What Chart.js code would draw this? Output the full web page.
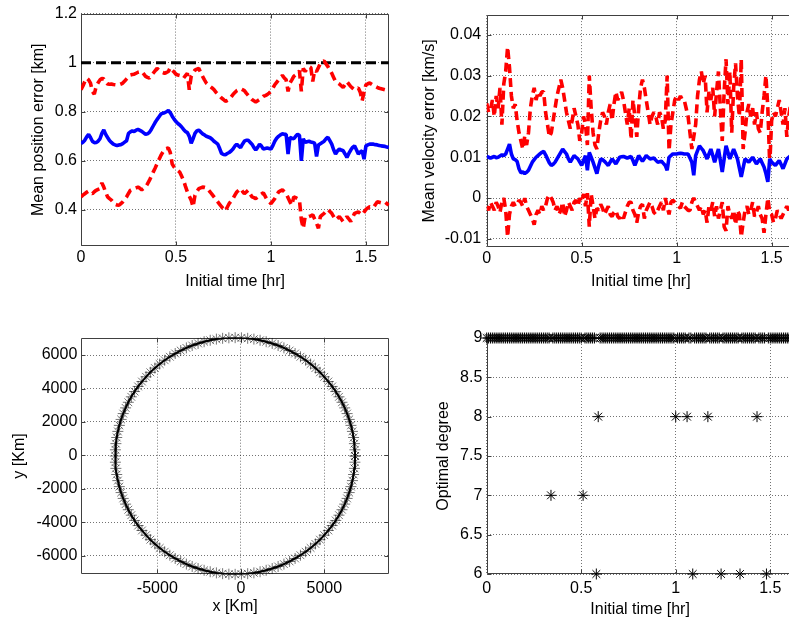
<!DOCTYPE html>
<html>
<head>
<meta charset="utf-8">
<script src="https://cdn.jsdelivr.net/npm/chart.js@4.4.1/dist/chart.umd.min.js"></script>
<style>
  html, body { margin: 0; padding: 0; overflow: hidden; background: #fff; width: 789px; height: 623px; }
  canvas { position: absolute; }
</style>
</head>
<body>
<canvas id="posChart" width="400" height="300" style="left:0;top:0"></canvas>
<canvas id="velChart" width="400" height="300" style="left:400px;top:0"></canvas>
<canvas id="orbitChart" width="400" height="323" style="left:0;top:300px"></canvas>
<canvas id="degChart" width="400" height="323" style="left:400px;top:300px"></canvas>
<script>
// initial times [hr]
const timeHr = [
  0,0.01,0.02,0.03,0.04,0.05,0.06,0.07,0.08,0.09,
  0.1,0.11,0.12,0.13,0.14,0.15,0.16,0.17,0.18,0.19,
  0.2,0.21,0.22,0.23,0.24,0.25,0.26,0.27,0.28,0.29,
  0.3,0.31,0.32,0.33,0.34,0.35,0.36,0.37,0.38,0.39,
  0.4,0.41,0.42,0.43,0.44,0.45,0.46,0.47,0.48,0.49,
  0.5,0.51,0.52,0.53,0.54,0.55,0.56,0.57,0.58,0.59,
  0.6,0.61,0.62,0.63,0.64,0.65,0.66,0.67,0.68,0.69,
  0.7,0.71,0.72,0.73,0.74,0.75,0.76,0.77,0.78,0.79,
  0.8,0.81,0.82,0.83,0.84,0.85,0.86,0.87,0.88,0.89,
  0.9,0.91,0.92,0.93,0.94,0.95,0.96,0.97,0.98,0.99,
  1,1.01,1.02,1.03,1.04,1.05,1.06,1.07,1.08,1.09,
  1.1,1.11,1.12,1.13,1.14,1.15,1.16,1.17,1.18,1.19,
  1.2,1.21,1.22,1.23,1.24,1.25,1.26,1.27,1.28,1.29,
  1.3,1.31,1.32,1.33,1.34,1.35,1.36,1.37,1.38,1.39,
  1.4,1.41,1.42,1.43,1.44,1.45,1.46,1.47,1.48,1.49,
  1.5,1.51,1.52,1.53,1.54,1.55,1.56,1.57,1.58,1.59,
  1.6,1.61,1.62
];

// mean position error [km] and its bounds
const posMean = [
  0.671,0.676,0.684,0.698,0.708,0.695,0.680,0.674,0.675,0.680,
  0.690,0.712,0.726,0.708,0.695,0.683,0.675,0.668,0.665,0.663,
  0.665,0.666,0.670,0.676,0.682,0.712,0.718,0.722,0.720,0.725,
  0.728,0.724,0.720,0.714,0.708,0.710,0.716,0.728,0.742,0.756,
  0.768,0.779,0.790,0.794,0.796,0.800,0.805,0.796,0.782,0.770,
  0.760,0.752,0.746,0.738,0.728,0.720,0.715,0.700,0.672,0.690,
  0.712,0.722,0.725,0.718,0.710,0.706,0.700,0.697,0.694,0.688,
  0.680,0.674,0.668,0.650,0.630,0.626,0.625,0.630,0.634,0.640,
  0.648,0.660,0.668,0.660,0.654,0.668,0.680,0.684,0.684,0.676,
  0.668,0.655,0.644,0.655,0.668,0.660,0.648,0.650,0.652,0.650,
  0.648,0.662,0.680,0.692,0.700,0.706,0.710,0.708,0.708,0.628,
  0.695,0.692,0.690,0.700,0.708,0.704,0.600,0.690,0.675,0.678,
  0.680,0.677,0.675,0.672,0.618,0.665,0.670,0.675,0.680,0.690,
  0.696,0.682,0.668,0.645,0.628,0.640,0.648,0.644,0.641,0.628,
  0.614,0.630,0.644,0.655,0.661,0.645,0.628,0.636,0.641,0.607,
  0.661,0.665,0.668,0.668,0.668,0.666,0.665,0.663,0.661,0.660,
  0.659,0.656,0.654
];
const posUpper = [
  0.890,0.905,0.923,0.937,0.930,0.917,0.883,0.872,0.903,0.918,
  0.930,0.935,0.934,0.922,0.913,0.912,0.913,0.911,0.910,0.909,
  0.910,0.913,0.917,0.925,0.934,0.943,0.950,0.952,0.953,0.957,
  0.961,0.963,0.964,0.954,0.944,0.940,0.937,0.947,0.957,0.967,
  0.977,0.970,0.964,0.960,0.957,0.960,0.964,0.980,0.970,0.962,
  0.953,0.950,0.948,0.942,0.937,0.947,0.957,0.890,0.944,0.958,
  0.970,0.974,0.977,0.960,0.944,0.930,0.917,0.910,0.903,0.897,
  0.890,0.880,0.872,0.864,0.856,0.850,0.843,0.846,0.850,0.860,
  0.870,0.878,0.886,0.890,0.894,0.890,0.886,0.876,0.867,0.858,
  0.850,0.845,0.840,0.845,0.850,0.856,0.863,0.866,0.870,0.876,
  0.883,0.896,0.910,0.920,0.930,0.940,0.948,0.938,0.930,0.883,
  0.917,0.930,0.944,0.950,0.957,0.967,0.883,0.977,0.964,0.974,
  0.984,0.980,0.923,0.970,0.964,0.980,0.997,1.003,1.007,0.995,
  0.984,0.970,0.957,0.940,0.923,0.918,0.913,0.906,0.899,0.910,
  0.923,0.913,0.903,0.896,0.890,0.894,0.897,0.880,0.845,0.880,
  0.910,0.914,0.917,0.912,0.907,0.903,0.899,0.896,0.894,0.892,
  0.890,0.892,0.894
];
const posLower = [
  0.453,0.460,0.466,0.472,0.477,0.470,0.466,0.474,0.480,0.484,
  0.487,0.510,0.493,0.472,0.453,0.446,0.440,0.430,0.423,0.420,
  0.419,0.426,0.433,0.443,0.453,0.467,0.480,0.484,0.487,0.490,
  0.493,0.488,0.482,0.488,0.493,0.506,0.520,0.537,0.554,0.570,
  0.587,0.604,0.621,0.635,0.648,0.650,0.652,0.634,0.587,0.575,
  0.567,0.560,0.554,0.537,0.520,0.496,0.473,0.456,0.440,0.413,
  0.460,0.474,0.487,0.490,0.493,0.492,0.490,0.482,0.473,0.463,
  0.453,0.443,0.433,0.423,0.413,0.404,0.396,0.411,0.426,0.436,
  0.446,0.460,0.473,0.480,0.487,0.476,0.466,0.473,0.480,0.466,
  0.453,0.450,0.446,0.453,0.460,0.465,0.470,0.455,0.440,0.433,
  0.426,0.436,0.446,0.460,0.473,0.478,0.482,0.474,0.466,0.450,
  0.433,0.419,0.453,0.450,0.446,0.440,0.360,0.325,0.373,0.373,
  0.373,0.376,0.380,0.363,0.346,0.325,0.373,0.380,0.386,0.394,
  0.402,0.394,0.386,0.373,0.360,0.366,0.373,0.363,0.353,0.363,
  0.373,0.363,0.353,0.370,0.386,0.389,0.392,0.386,0.380,0.391,
  0.402,0.408,0.413,0.411,0.410,0.422,0.433,0.431,0.429,0.431,
  0.433,0.426,0.419
];
const posLimit = 1;

// mean velocity error [km/s] and its bounds
const velMean = [
  0.0102,0.0100,0.0098,0.0100,0.0102,0.0099,0.0100,0.0103,0.0106,0.0104,
  0.0108,0.0120,0.0132,0.0108,0.0096,0.0094,0.0090,0.0072,0.0062,0.0064,
  0.0060,0.0063,0.0068,0.0078,0.0088,0.0094,0.0100,0.0104,0.0108,0.0112,
  0.0114,0.0106,0.0096,0.0086,0.0080,0.0083,0.0088,0.0096,0.0104,0.0112,
  0.0120,0.0114,0.0108,0.0096,0.0088,0.0096,0.0104,0.0100,0.0096,0.0088,
  0.0080,0.0092,0.0104,0.0068,0.0112,0.0100,0.0088,0.0074,0.0060,0.0080,
  0.0096,0.0094,0.0090,0.0085,0.0080,0.0088,0.0096,0.0090,0.0084,0.0092,
  0.0100,0.0101,0.0102,0.0100,0.0098,0.0100,0.0102,0.0092,0.0080,0.0092,
  0.0104,0.0097,0.0090,0.0097,0.0104,0.0100,0.0096,0.0097,0.0098,0.0093,
  0.0088,0.0089,0.0090,0.0085,0.0080,0.0068,0.0100,0.0104,0.0108,0.0108,
  0.0108,0.0109,0.0110,0.0109,0.0108,0.0108,0.0108,0.0098,0.0088,0.0056,
  0.0104,0.0116,0.0128,0.0122,0.0116,0.0106,0.0096,0.0108,0.0120,0.0104,
  0.0088,0.0104,0.0120,0.0092,0.0064,0.0096,0.0128,0.0112,0.0096,0.0108,
  0.0120,0.0108,0.0096,0.0074,0.0052,0.0074,0.0096,0.0092,0.0088,0.0094,
  0.0100,0.0092,0.0084,0.0090,0.0096,0.0086,0.0076,0.0060,0.0040,0.0096,
  0.0088,0.0084,0.0080,0.0086,0.0092,0.0082,0.0072,0.0084,0.0096,0.0100,
  0.0104,0.0102,0.0100
];
const velUpper = [
  0.0232,0.021,0.0216,0.024,0.020,0.025,0.022,0.027,0.018,0.028,
  0.031,0.037,0.032,0.025,0.022,0.023,0.019,0.016,0.014,0.012,
  0.015,0.013,0.016,0.022,0.025,0.027,0.024,0.026,0.025,0.026,
  0.026,0.021,0.018,0.015,0.016,0.019,0.022,0.025,0.027,0.029,
  0.027,0.024,0.021,0.019,0.017,0.019,0.022,0.020,0.018,0.014,
  0.016,0.020,0.018,0.013,0.030,0.022,0.016,0.013,0.012,0.016,
  0.019,0.021,0.020,0.018,0.021,0.023,0.019,0.023,0.026,0.024,
  0.025,0.026,0.024,0.021,0.018,0.022,0.0144,0.024,0.020,0.015,
  0.022,0.027,0.029,0.027,0.024,0.021,0.018,0.020,0.021,0.020,
  0.018,0.021,0.020,0.017,0.019,0.030,0.0116,0.018,0.021,0.024,
  0.025,0.024,0.025,0.024,0.024,0.022,0.020,0.016,0.012,0.015,
  0.018,0.025,0.029,0.031,0.028,0.030,0.021,0.026,0.024,0.027,
  0.020,0.026,0.031,0.022,0.014,0.026,0.034,0.023,0.031,0.016,
  0.027,0.033,0.025,0.020,0.034,0.012,0.016,0.021,0.023,0.020,
  0.022,0.018,0.021,0.017,0.016,0.021,0.025,0.030,0.022,0.008,
  0.019,0.021,0.020,0.022,0.024,0.021,0.018,0.022,0.015,0.020,
  0.023,0.019,0.021
];
const velLower = [
  -0.002,-0.003,-0.001,-0.002,-0.003,-0.001,-0.002,-0.0035,-0.001,0,
  -0.003,-0.0095,-0.004,-0.002,-0.001,-0.002,-0.0015,-0.0005,-0.001,-0.002,
  0,-0.002,-0.003,-0.004,-0.005,-0.0065,-0.004,-0.003,-0.004,-0.002,
  -0.003,-0.002,0,0.0008,0,-0.001,-0.003,-0.002,-0.004,-0.003,
  -0.001,-0.0045,-0.003,-0.001,-0.002,-0.003,-0.001,-0.0005,-0.002,0,
  -0.001,0.001,-0.002,0.0012,-0.007,0.001,-0.002,-0.005,-0.0025,-0.003,
  -0.0015,-0.0025,-0.004,-0.003,-0.002,-0.004,-0.0045,-0.0035,-0.003,-0.0045,
  -0.005,-0.004,-0.005,-0.0035,-0.002,-0.001,-0.001,-0.003,-0.004,-0.006,
  -0.0035,-0.002,-0.0015,-0.005,-0.003,-0.002,-0.001,-0.002,-0.0035,-0.004,
  -0.003,-0.002,-0.001,-0.003,0,-0.002,-0.004,-0.001,-0.0005,-0.001,
  -0.0015,-0.002,-0.0025,-0.001,-0.002,-0.0025,-0.003,-0.003,-0.001,0,
  -0.001,-0.002,-0.003,-0.002,-0.004,-0.003,-0.006,-0.002,-0.003,-0.001,
  -0.0045,-0.002,-0.005,-0.003,-0.001,-0.007,-0.008,-0.002,-0.004,-0.005,
  -0.003,-0.0065,-0.003,-0.004,-0.0095,-0.006,-0.003,-0.002,-0.004,-0.003,
  -0.001,-0.0045,-0.0035,-0.002,-0.004,-0.005,-0.0085,-0.004,0,-0.0035,
  -0.004,-0.006,-0.005,-0.003,-0.004,-0.005,-0.004,-0.003,-0.002,-0.003,
  -0.002,-0.001,-0.003
];

// orbit positions [Km]
const orbitX = [
  6840,6830,6800,6752,6683,6595,6489,6363,6219,6057,5878,5682,5469,5240,4995,
  4737,4464,4178,3880,3570,3250,2920,2580,2233,1879,1518,1153,783,410,36,
  -340,-716,-1090,-1463,-1833,-2198,-2559,-2913,-3260,-3600,-3930,-4250,-4560,-4858,-5144,
  -5417,-5675,-5920,-6149,-6362,-6558,-6737,-6899,-7043,-7169,-7275,-7363,-7432,-7480,-7510,
  -7520,-7510,-7480,-7432,-7363,-7275,-7169,-7043,-6899,-6737,-6558,-6362,-6149,-5920,-5675,
  -5417,-5144,-4858,-4560,-4250,-3930,-3600,-3260,-2913,-2559,-2198,-1833,-1463,-1090,-716,
  -340,36,410,783,1153,1518,1879,2233,2580,2920,3250,3570,3880,4178,4464,
  4737,4995,5240,5469,5682,5878,6057,6219,6363,6489,6595,6683,6752,6800,6830,
  6840
];
const orbitY = [
  -30,340,708,1075,1439,1798,2153,2502,2843,3178,3503,3818,4123,4416,4697,
  4966,5220,5460,5686,5895,6088,6265,6424,6566,6690,6794,6880,6948,6996,7025,
  7035,7025,6996,6948,6880,6794,6690,6566,6424,6265,6088,5895,5686,5460,5220,
  4966,4697,4416,4123,3818,3503,3178,2843,2502,2153,1798,1439,1075,708,340,
  -30,-400,-768,-1135,-1499,-1858,-2213,-2562,-2903,-3238,-3563,-3878,-4183,-4476,-4757,
  -5026,-5280,-5520,-5746,-5955,-6148,-6325,-6484,-6626,-6750,-6854,-6940,-7008,-7056,-7085,
  -7095,-7085,-7056,-7008,-6940,-6854,-6750,-6626,-6484,-6325,-6148,-5955,-5746,-5520,-5280,
  -5026,-4757,-4476,-4183,-3878,-3563,-3238,-2903,-2562,-2213,-1858,-1499,-1135,-768,-400,
  -30
];

// optimal polynomial degree per initial time
const optDegree = [
  9,9,9,9,9,9,9,9,9,9,
  9,9,9,9,9,9,9,9,9,9,
  9,9,9,9,9,9,9,9,9,9,
  9,9,9,9,7,9,9,9,9,9,
  9,9,9,9,9,9,9,9,9,9,
  9,7,9,9,9,9,9,9,6,8,
  9,9,9,9,9,9,9,9,9,9,
  9,9,9,9,9,9,9,9,9,9,
  9,9,9,9,9,9,9,9,9,9,
  9,9,9,9,9,9,9,9,9,9,
  8,9,9,9,9,9,8,9,9,6,
  9,9,9,9,9,9,9,8,9,9,
  9,9,9,9,6,9,9,9,9,9,
  9,9,9,9,6,9,9,9,9,9,
  9,9,9,8,9,9,9,9,6,9,
  9,9,9,9,9,9,9,9,9,9,
  9,9,9
];

// tick values and labels
const hrTicks = [0, 0.5, 1, 1.5];
const hrTickLabels = ['0', '0.5', '1', '1.5'];
const posTicks = [0.4, 0.6, 0.8, 1, 1.2];
const posTickLabels = ['0.4', '0.6', '0.8', '1', '1.2'];
const velTicks = [-0.01, 0, 0.01, 0.02, 0.03, 0.04];
const velTickLabels = ['-0.01', '0', '0.01', '0.02', '0.03', '0.04'];
const orbitXTicks = [-5000, 0, 5000];
const orbitXTickLabels = ['-5000', '0', '5000'];
const orbitYTicks = [-6000, -4000, -2000, 0, 2000, 4000, 6000];
const orbitYTickLabels = ['-6000', '-4000', '-2000', '0', '2000', '4000', '6000'];
const degTicks = [6, 6.5, 7, 7.5, 8, 8.5, 9];
const degTickLabels = ['6', '6.5', '7', '7.5', '8', '8.5', '9'];

Chart.defaults.font.family = "'Liberation Sans', Arial, sans-serif";
Chart.defaults.font.size = 16;
Chart.defaults.color = '#000';

// box around the plot area with inward tick marks, MATLAB style
const framePlugin = {
  id: 'frame',
  beforeDatasetsDraw(chart) {
    const { ctx, chartArea: a, scales } = chart;
    const l = Math.round(a.left) + 0.5, r = Math.round(a.right) - 0.5;
    const t = Math.round(a.top) + 0.5, b = Math.round(a.bottom) - 0.5;
    ctx.save();
    ctx.strokeStyle = '#404040';
    ctx.lineWidth = 1;
    ctx.beginPath();
    ctx.rect(l, t, r - l, b - t);
    scales.x.ticks.forEach(tk => {
      const px = Math.round(scales.x.getPixelForValue(tk.value)) + 0.5;
      ctx.moveTo(px, b); ctx.lineTo(px, b - 4);
      ctx.moveTo(px, t); ctx.lineTo(px, t + 4);
    });
    scales.y.ticks.forEach(tk => {
      const py = Math.round(scales.y.getPixelForValue(tk.value)) + 0.5;
      ctx.moveTo(l, py); ctx.lineTo(l + 4, py);
      ctx.moveTo(r, py); ctx.lineTo(r - 4, py);
    });
    ctx.stroke();
    ctx.restore();
  }
};

function axis(o) {
  return {
    type: 'linear',
    min: o.min,
    max: o.max,
    afterBuildTicks: s => { s.ticks = o.ticks.map(v => ({ value: v })); },
    afterFit: s => { if (o.horizontal) s.height = o.size; else s.width = o.size; },
    ticks: {
      padding: o.tickPad,
      autoSkip: false,
      maxRotation: 0,
      callback: (v, i) => o.labels[i]
    },
    grid: { color: 'rgba(0,0,0,0.55)', lineWidth: 1, drawTicks: false },
    border: { display: false, dash: [1, 2] },
    title: {
      display: true,
      text: o.title,
      padding: o.horizontal ? { top: 0, bottom: o.titlePad } : { top: o.titlePad, bottom: 0 }
    }
  };
}

function baseOptions(padding, x, y) {
  return {
    responsive: false,
    animation: false,
    devicePixelRatio: 1,
    layout: { padding },
    plugins: { legend: { display: false }, tooltip: { enabled: false } },
    scales: { x, y }
  };
}

function lineSet(values, color, dash, width) {
  return {
    data: timeHr.map((t, i) => ({ x: t, y: values[i] })),
    borderColor: color,
    borderWidth: width,
    borderDash: dash,
    borderJoinStyle: 'bevel',
    pointRadius: 0,
    tension: 0,
    fill: false
  };
}

const lastHr = timeHr[timeHr.length - 1];

// top left: position error
new Chart(document.getElementById('posChart'), {
  type: 'line',
  data: {
    datasets: [
      lineSet(posMean, '#0000ff', [], 3.6),
      lineSet(posUpper, '#ff0000', [9, 5], 3.6),
      lineSet(posLower, '#ff0000', [9, 5], 3.6),
      {
        data: [{ x: timeHr[0], y: posLimit }, { x: lastHr, y: posLimit }],
        borderColor: '#000', borderWidth: 3, borderDash: [10, 5], pointRadius: 0
      }
    ]
  },
  options: baseOptions(
    { left: 0, top: 11, right: 10.7, bottom: 0 },
    axis({ horizontal: true, min: 0, max: 1.623, ticks: hrTicks, labels: hrTickLabels,
           size: 54, tickPad: 2, title: 'Initial time [hr]', titlePad: 9 }),
    axis({ min: 0.253, max: 1.2, ticks: posTicks, labels: posTickLabels,
           size: 81, tickPad: 4, title: 'Mean position error [km]', titlePad: 28.7 })
  ),
  plugins: [framePlugin]
});

// top right: velocity error
new Chart(document.getElementById('velChart'), {
  type: 'line',
  data: {
    datasets: [
      lineSet(velMean, '#0000ff', [], 3.6),
      lineSet(velUpper, '#ff0000', [9, 5], 3.6),
      lineSet(velLower, '#ff0000', [9, 5], 3.6)
    ]
  },
  options: baseOptions(
    { left: 0, top: 10, right: 5, bottom: 0 },
    axis({ horizontal: true, min: 0, max: 1.623, ticks: hrTicks, labels: hrTickLabels,
           size: 53.3, tickPad: 2, title: 'Initial time [hr]', titlePad: 8.4 }),
    axis({ min: -0.0119, max: 0.0448, ticks: velTicks, labels: velTickLabels,
           size: 86.7, tickPad: 5.5, title: 'Mean velocity error [km/s]', titlePad: 19.7 })
  ),
  plugins: [framePlugin]
});

// bottom left: orbit
const orbitPts = orbitX.map((x, i) => ({ x, y: orbitY[i] }));
new Chart(document.getElementById('orbitChart'), {
  type: 'scatter',
  data: {
    datasets: [
      { data: orbitPts, showLine: true, borderColor: '#000', borderWidth: 2, pointRadius: 0, tension: 0 },
      { data: orbitPts, pointStyle: 'star', pointRadius: 5.5, pointBorderColor: 'rgba(0,0,0,0.55)',
        pointBorderWidth: 1, pointBackgroundColor: 'rgba(0,0,0,0)', clip: false }
    ]
  },
  options: baseOptions(
    { left: 0, top: 37.7, right: 10.7, bottom: 0 },
    axis({ horizontal: true, min: -9570, max: 8890, ticks: orbitXTicks, labels: orbitXTickLabels,
           size: 48.7, tickPad: 5, title: 'x [Km]', titlePad: 6.5 }),
    axis({ min: -7093, max: 7033, ticks: orbitYTicks, labels: orbitYTickLabels,
           size: 81, tickPad: 3.7, title: 'y [Km]', titlePad: 10.4 })
  ),
  plugins: [framePlugin]
});

// bottom right: optimal degree
new Chart(document.getElementById('degChart'), {
  type: 'scatter',
  data: {
    datasets: [
      { data: timeHr.map((t, i) => ({ x: t, y: optDegree[i] })), pointStyle: 'star', pointRadius: 5.5,
        pointBorderColor: '#000', pointBorderWidth: 1, pointBackgroundColor: 'rgba(0,0,0,0)', clip: false }
    ]
  },
  options: baseOptions(
    { left: 0, top: 38, right: 5, bottom: 0 },
    axis({ horizontal: true, min: 0, max: 1.623, ticks: hrTicks, labels: hrTickLabels,
           size: 49, tickPad: 5, title: 'Initial time [hr]', titlePad: 3.5 }),
    axis({ min: 6, max: 9, ticks: degTicks, labels: degTickLabels,
           size: 86.7, tickPad: 4.4, title: 'Optimal degree', titlePad: 33.7 })
  ),
  plugins: [framePlugin]
});
</script>
</body>
</html>
